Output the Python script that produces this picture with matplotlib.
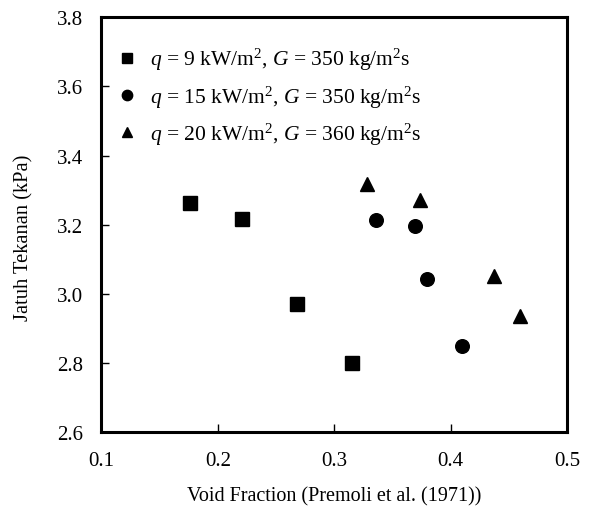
import matplotlib
matplotlib.use("Agg")
import matplotlib.pyplot as plt

plt.rcParams['font.family'] = ['Liberation Serif', 'DejaVu Serif']
plt.rcParams['mathtext.fontset'] = 'custom'
plt.rcParams['mathtext.rm'] = 'Liberation Serif'
plt.rcParams['mathtext.it'] = 'Liberation Serif:italic'

# data
x_q9 = [0.176, 0.221, 0.268, 0.315]
y_q9 = [3.262, 3.216, 2.971, 2.799]

x_q15 = [0.336, 0.369, 0.380, 0.4095]
y_q15 = [3.214, 3.196, 3.042, 2.850]

x_q20 = [0.328, 0.374, 0.437, 0.4595]
y_q20 = [3.318, 3.271, 3.053, 2.937]

labels = [r'$q$ = 9 kW/m$^2$, $G$ = 350 kg/m$^2$s',
          r'$q$ = 15 kW/m$^2$, $G$ = 350 kg/m$^2$s',
          r'$q$ = 20 kW/m$^2$, $G$ = 360 kg/m$^2$s']

xticks = [0.1, 0.2, 0.3, 0.4, 0.5]
yticks = [2.6, 2.8, 3.0, 3.2, 3.4, 3.6, 3.8]

fig = plt.figure(figsize=(5.91, 5.10), dpi=100)
ax = fig.add_axes([0.1717, 0.1504, 0.9594 - 0.1717, 0.9641 - 0.1504])

ax.plot(x_q9, y_q9, 's', color='black', markersize=9.5, linestyle='none', label=labels[0])
ax.plot(x_q15, y_q15, 'o', color='black', markersize=9.8, linestyle='none', label=labels[1])
ax.plot(x_q20, y_q20, '^', color='black', markersize=9.8, linestyle='none', label=labels[2])

ax.set_xlim(0.1, 0.5)
ax.set_ylim(2.6, 3.8)
ax.set_xticks(xticks)
ax.set_yticks(yticks)
ax.set_xticklabels(['%.1f' % v for v in xticks])
ax.set_yticklabels(['%.1f' % v for v in yticks])
ax.tick_params(direction='in', length=6, width=1, labelsize=15, pad=13.5)

for s in ax.spines.values():
    s.set_linewidth(2.2)

ax.set_xlabel('Void Fraction (Premoli et al. (1971))', fontsize=14.5, labelpad=12)
ax.set_ylabel('Jatuh Tekanan (kPa)', fontsize=14.8)
ax.yaxis.set_label_coords(-0.145, 0.47)

ax.legend(loc='upper left', bbox_to_anchor=(0.0, 0.967), frameon=False,
          fontsize=15.5, markerscale=0.76, handlelength=1.0, handletextpad=0.55,
          labelspacing=0.52, borderaxespad=0.3)

fig.savefig('out.png', dpi=100)
